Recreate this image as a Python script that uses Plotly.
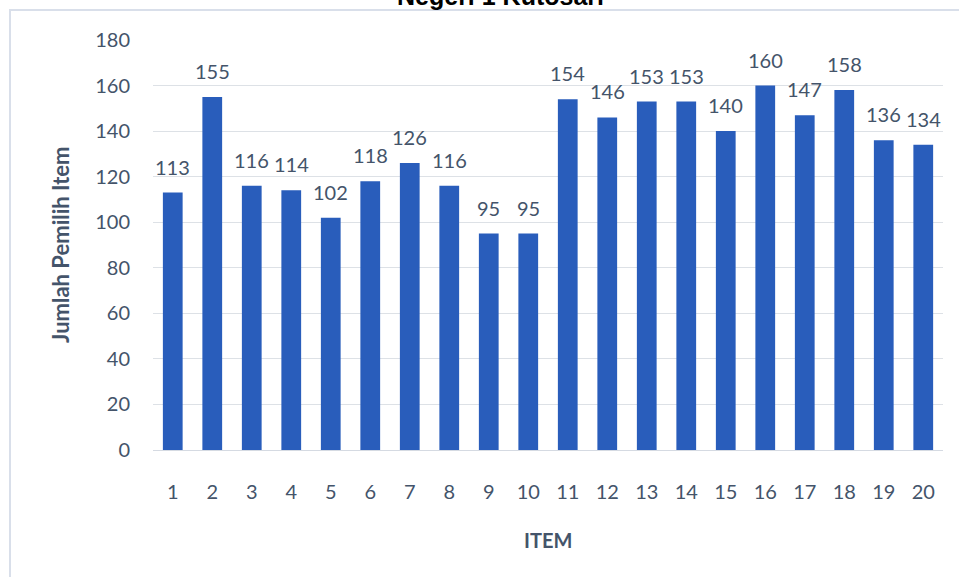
import plotly.graph_objects as go

items = [str(i) for i in range(1, 21)]
values = [113, 155, 116, 114, 102, 118, 126, 116, 95, 95,
          154, 146, 153, 153, 140, 160, 147, 158, 136, 134]
y_ticks = [0, 20, 40, 60, 80, 100, 120, 140, 160, 180]

title_text = "Negeri 1 Kutosari"
x_title = "ITEM"
y_title = "Jumlah Pemilih Item"

W, H = 959, 577
ML, MR, MT, MB = 153, 16, 40, 127
PW, PH = W - ML - MR, H - MT - MB

def px_x(p):
    return (p - ML) / PW

def px_y(p):
    return (H - MB - p) / PH

txt = "#44546a"
font = "Lato, 'Open Sans', sans-serif"

fig = go.Figure()
fig.add_trace(go.Bar(
    x=items, y=values,
    marker=dict(color="#295dbb", line=dict(width=0)),
    hoverinfo="x+y",
))

for i, v in enumerate(values):
    fig.add_annotation(x=i, y=v, text=str(v), showarrow=False,
                       xref="x", yref="y", yanchor="middle", yshift=26,
                       font=dict(family=font, size=20, color=txt))

fig.add_annotation(x=px_x(500), y=px_y(-4), xref="paper", yref="paper",
                   text="<b>" + title_text + "</b>", showarrow=False,
                   xanchor="center", yanchor="middle",
                   font=dict(family="Liberation Sans, Arial, sans-serif", size=25, color="#000000"))
fig.add_annotation(x=px_x(548), y=px_y(540), xref="paper", yref="paper",
                   text="<b>" + x_title + "</b>", showarrow=False,
                   xanchor="center", yanchor="middle",
                   font=dict(family=font, size=20, color=txt))
fig.add_annotation(x=px_x(60), y=px_y(245), xref="paper", yref="paper",
                   text="<b>" + y_title + "</b>", showarrow=False, textangle=-90,
                   xanchor="center", yanchor="middle",
                   font=dict(family=font, size=22, color=txt))

fig.add_shape(type="rect", xref="paper", yref="paper",
              x0=px_x(10), x1=px_x(975), y0=px_y(10), y1=px_y(600),
              line=dict(color="#d9dfea", width=2), fillcolor="rgba(0,0,0,0)",
              layer="below")

fig.update_layout(
    width=W, height=H,
    margin=dict(l=ML, r=MR, t=MT, b=MB, autoexpand=False),
    paper_bgcolor="white", plot_bgcolor="white",
    bargap=0.5, showlegend=False,
    font=dict(family=font, size=20, color=txt),
    xaxis=dict(type="category", range=[-0.5, len(items) - 0.5],
               showgrid=False, showline=False, zeroline=False,
               ticks="", ticklabelstandoff=28,
               tickfont=dict(family=font, size=20, color=txt)),
    yaxis=dict(range=[0, 180], tickvals=y_ticks, showgrid=True,
               gridcolor="#dde1e6", gridwidth=1, zeroline=True,
               zerolinecolor="#d5dae2", zerolinewidth=1, showline=False,
               ticks="", ticklabelstandoff=22,
               tickfont=dict(family=font, size=20, color=txt)),
)

fig.write_html("out.html")
